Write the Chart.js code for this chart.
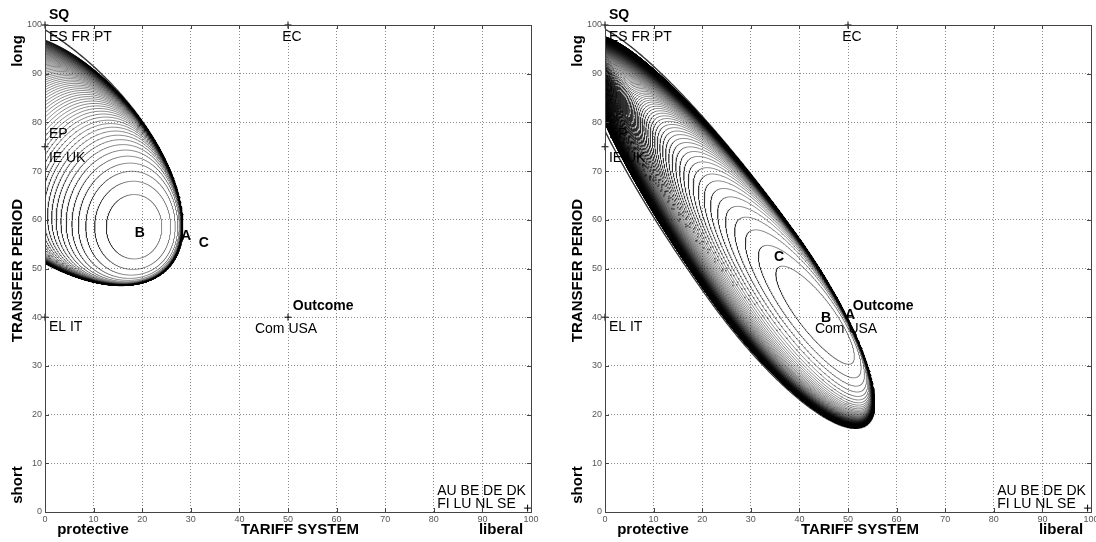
<!DOCTYPE html>
<html>
<head>
<meta charset="utf-8">
<script src="https://cdn.jsdelivr.net/npm/chart.js@4.4.1/dist/chart.umd.min.js"></script>
<style>
  html, body { margin: 0; padding: 0; background: #fff; }
  #wrap { display: flex; width: 1096px; height: 542px; }
  .panel { width: 548px; height: 542px; }
</style>
</head>
<body>
<div id="wrap">
  <div class="panel"><canvas id="left" width="548" height="542"></canvas></div>
  <div class="panel"><canvas id="right" width="548" height="542"></canvas></div>
</div>
<script>
const tickValues = [0, 10, 20, 30, 40, 50, 60, 70, 80, 90, 100]

// actor positions: tariff system (x), transfer period (y)
const actorTariff = [0, 50, 0, 0, 50, 99.3]
const actorPeriod = [100, 100, 75, 40, 40, 0.8]

// actor labels, anchored at their left edge / vertical middle
const noteText = ["SQ", "ES FR PT", "EC", "EP", "IE UK", "EL IT", "Com USA", "Outcome", "AU BE DE DK", "FI LU NL SE"]
const noteX = [0.8, 0.8, 48.8, 0.8, 0.8, 0.8, 43.2, 51.0, 80.7, 80.7]
const noteY = [102.0, 97.5, 97.5, 77.6, 72.7, 38.0, 37.6, 42.2, 4.3, 1.6]
const noteBold = [true, false, false, false, false, false, false, true, false, false]

// proposals B, A, C
const proposalNames = ["B", "A", "C"]
const leftProposalX = [19.5, 29.0, 32.7]
const leftProposalY = [57.3, 56.7, 55.2]
const rightProposalX = [45.5, 50.4, 35.8]
const rightProposalY = [39.8, 40.5, 52.4]

// utility contours: innermost ring [centre x, centre y, semi-axis, cross semi-axis, angle deg]
const leftInner = [18.4, 58.5, 5.8, 6.7, 0]
const rightInner = [44.1, 39.9, 13.4, 3.85, -50.7]
// outer edge [centre x, centre y, forward semi-axis, backward semi-axis, cross semi-axis, angle deg]
const leftOuter = [-1.7, 76.0, 37.4, 37.4, 19.3, -44.1]
const rightOuter = [30.4, 50.3, 40, 61, 11.2, -54.3]
const leftLevels = 85
const rightLevels = 200
const leftSharpness = 4
const rightSharpness = 2.5

// distance from (px, py) along (dx, dy) to the outer edge
function rayToEdge(outer, px, py, dx, dy) {
  const [cx, cy, fwd, back, across, deg] = outer
  const ang = (deg * Math.PI) / 180
  const ex = Math.cos(ang), ey = Math.sin(ang)
  const a0 = (px - cx) * ex + (py - cy) * ey
  const b0 = -(px - cx) * ey + (py - cy) * ex
  const a1 = dx * ex + dy * ey
  const b1 = -dx * ey + dy * ex
  let r = 0
  for (const len of [fwd, back]) {
    const A = (a1 * a1) / (len * len) + (b1 * b1) / (across * across)
    const B = 2 * ((a0 * a1) / (len * len) + (b0 * b1) / (across * across))
    const C = (a0 * a0) / (len * len) + (b0 * b0) / (across * across) - 1
    r = (-B + Math.sqrt(B * B - 4 * A * C)) / (2 * A)
    if ((a0 + r * a1 >= 0) === (len === fwd)) return r
  }
  return r
}

// rings grow from the inner ellipse and bunch up against the outer edge
function contourLines(inner, outer, count, sharpness) {
  const [px, py, along, across, deg] = inner
  const ang = (deg * Math.PI) / 180
  const ex = Math.cos(ang), ey = Math.sin(ang)
  const steps = 600
  const dirs = []
  for (let i = 0; i <= steps; i++) {
    const t = (2 * Math.PI * i) / steps
    const u = along * Math.cos(t), v = across * Math.sin(t)
    const wx = ex * u - ey * v, wy = ey * u + ex * v
    const rho = Math.hypot(wx, wy)
    const dx = wx / rho, dy = wy / rho
    dirs.push([dx, dy, rho, rayToEdge(outer, px, py, dx, dy)])
  }
  const lines = []
  for (let k = 1; k <= count; k++) {
    const m = Math.sqrt(k)
    lines.push(
      dirs.map(([dx, dy, rho, edge]) => {
        const z = (m * rho) / edge
        const r = (edge * z) / Math.pow(1 + Math.pow(z, sharpness), 1 / sharpness)
        return { x: px + r * dx, y: py + r * dy }
      }),
    )
  }
  return lines
}

function edgeLine(outer) {
  const [cx, cy, fwd, back, across, deg] = outer
  const ang = (deg * Math.PI) / 180
  const ex = Math.cos(ang), ey = Math.sin(ang)
  const pts = []
  for (let i = 0; i <= 600; i++) {
    const t = (2 * Math.PI * i) / 600
    const c = Math.cos(t), s = Math.sin(t)
    const len = c >= 0 ? fwd : back
    pts.push({
      x: cx + ex * len * c - ey * across * s,
      y: cy + ey * len * c + ex * across * s,
    })
  }
  return pts
}

const FONT = "'Liberation Sans', Arial, Helvetica, sans-serif"

// frame, inward ticks and all the lettering
const decorations = {
  id: "decorations",
  afterDatasetsDraw(chart, args, opts) {
    const { ctx, chartArea: area, scales } = chart
    const sx = scales.x, sy = scales.y
    ctx.save()

    // box and inward tick marks
    ctx.strokeStyle = "#444"
    ctx.lineWidth = 1
    ctx.strokeRect(area.left + 0.5, area.top + 0.5, area.right - area.left, area.bottom - area.top)
    ctx.beginPath()
    tickValues.forEach((v) => {
      const x = Math.round(sx.getPixelForValue(v)) + 0.5
      const y = Math.round(sy.getPixelForValue(v)) + 0.5
      ctx.moveTo(x, area.bottom); ctx.lineTo(x, area.bottom - 4)
      ctx.moveTo(x, area.top); ctx.lineTo(x, area.top + 4)
      ctx.moveTo(area.left, y); ctx.lineTo(area.left + 4, y)
      ctx.moveTo(area.right, y); ctx.lineTo(area.right - 4, y)
    })
    ctx.stroke()

    ctx.fillStyle = "#000"
    ctx.textBaseline = "middle"

    // actor labels
    ctx.textAlign = "left"
    noteText.forEach((t, i) => {
      ctx.font = (noteBold[i] ? "bold " : "") + "14px " + FONT
      ctx.fillText(t, sx.getPixelForValue(noteX[i]), sy.getPixelForValue(noteY[i]))
    })

    // proposals
    ctx.textAlign = "center"
    ctx.font = "bold 14px " + FONT
    proposalNames.forEach((t, i) => {
      ctx.fillText(t, sx.getPixelForValue(opts.px[i]), sy.getPixelForValue(opts.py[i]))
    })

    // axis titles
    ctx.font = "bold 15px " + FONT
    const midY = (area.top + area.bottom) / 2
    ctx.fillText("protective", area.left + 48, area.bottom + 18)
    ctx.fillText("TARIFF SYSTEM", area.left + 255, area.bottom + 18)
    ctx.fillText("liberal", area.left + 456, area.bottom + 18)
    const vertical = (t, y) => {
      ctx.save()
      ctx.translate(area.left - 27, y)
      ctx.rotate(-Math.PI / 2)
      ctx.fillText(t, 0, 0)
      ctx.restore()
    }
    vertical("TRANSFER PERIOD", midY + 2)
    vertical("long", area.top + 26)
    vertical("short", area.bottom - 27)

    ctx.restore()
  },
}

function buildChart(id, inner, outer, levels, sharpness, propX, propY, axisWidth, rightPad) {
  const rings = contourLines(inner, outer, levels, sharpness)
  const datasets = rings.map((ring) => ({
    data: ring,
    showLine: true,
    pointRadius: 0,
    borderColor: "rgba(0,0,0,0.68)",
    borderWidth: 0.7,
    tension: 0,
  }))
  datasets.push({
    data: edgeLine(outer),
    showLine: true,
    pointRadius: 0,
    borderColor: "#333",
    borderWidth: 1.4,
    tension: 0,
  })
  datasets.push({
    data: actorTariff.map((x, i) => ({ x: x, y: actorPeriod[i] })),
    showLine: false,
    pointStyle: "cross",
    pointRadius: 3.5,
    borderColor: "#000",
    borderWidth: 1,
    clip: false,
  })

  const axis = (isX) => ({
    type: "linear",
    min: 0,
    max: 100,
    ticks: {
      stepSize: 10,
      autoSkip: false,
      maxRotation: 0,
      padding: isX ? 2 : 3,
      color: "#555",
      font: { family: FONT, size: 9 },
    },
    grid: { color: "#8a8a8a", lineWidth: 1, drawTicks: false },
    border: { display: false, dash: [1, 2] },
    afterFit: (scale) => {
      if (isX) {
        scale.height = 30
        scale.paddingLeft = 0
        scale.paddingRight = 0
      } else {
        scale.width = axisWidth
        scale.paddingTop = 0
        scale.paddingBottom = 0
      }
    },
  })

  return new Chart(document.getElementById(id), {
    type: "scatter",
    data: { datasets: datasets },
    options: {
      responsive: false,
      animation: false,
      devicePixelRatio: 1,
      layout: { padding: { left: 0, top: 25, right: rightPad, bottom: 0 } },
      scales: { x: axis(true), y: axis(false) },
      plugins: {
        legend: { display: false },
        tooltip: { enabled: false },
        decorations: { px: propX, py: propY },
      },
    },
    plugins: [decorations],
  })
}

buildChart("left", leftInner, leftOuter, leftLevels, leftSharpness, leftProposalX, leftProposalY, 45, 17)
buildChart("right", rightInner, rightOuter, rightLevels, rightSharpness, rightProposalX, rightProposalY, 57, 5)
</script>
</body>
</html>
